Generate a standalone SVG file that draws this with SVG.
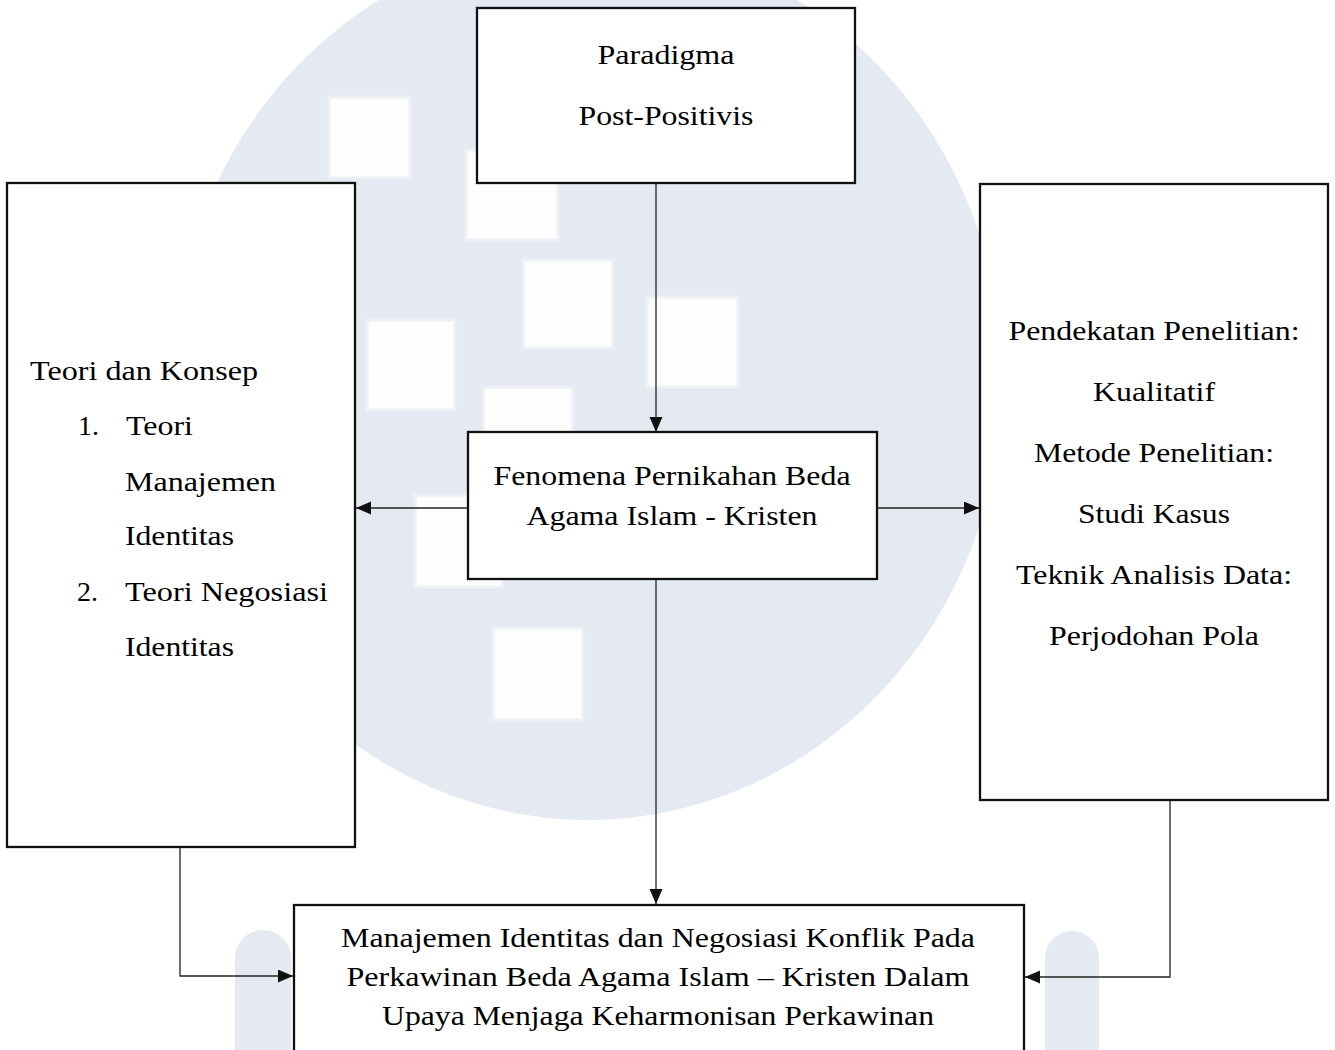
<svg xmlns="http://www.w3.org/2000/svg" width="1335" height="1050" viewBox="0 0 1335 1050">
<style>
.box{fill:#ffffff;stroke:#111111;stroke-width:2.3}
.t{font-family:"Liberation Serif","Times New Roman",Times,serif;font-size:28px;fill:#000000}
.c{text-anchor:middle}
.ln{fill:none;stroke:#222222;stroke-width:1.3}
.wm{fill:#e5e9f1}
.sq{fill:#fdfdfe;stroke:#eef0f5;stroke-width:3}
</style>
<defs>
<marker id="arr" markerUnits="userSpaceOnUse" markerWidth="16" markerHeight="14" refX="15" refY="6.5" orient="auto">
<path d="M0,0 L15,6.5 L0,13 z" fill="#111111"/>
</marker>
</defs>
<rect width="1335" height="1050" fill="#ffffff"/>
<g id="watermark">
<ellipse class="wm" cx="588" cy="380" rx="415" ry="440"/>
<rect class="sq" x="329" y="97" width="81" height="81"/>
<rect class="sq" x="466" y="150" width="92" height="90"/>
<rect class="sq" x="523" y="260" width="90" height="88"/>
<rect class="sq" x="367" y="320" width="88" height="90"/>
<rect class="sq" x="483" y="387" width="90" height="88"/>
<rect class="sq" x="647" y="297" width="91" height="90"/>
<rect class="sq" x="415" y="495" width="88" height="92"/>
<rect class="sq" x="493" y="628" width="90" height="92"/>
<path class="wm" d="M235,1050 V958 A28,28 0 0 1 291,958 V1050 Z"/>
<path class="wm" d="M1045,1050 V958 A27,27 0 0 1 1099,958 V1050 Z"/>
</g>
<g id="connectors">
<line class="ln" x1="656" y1="184" x2="656" y2="432" marker-end="url(#arr)"/>
<line class="ln" x1="468" y1="508" x2="356" y2="508" marker-end="url(#arr)"/>
<line class="ln" x1="877" y1="508" x2="979" y2="508" marker-end="url(#arr)"/>
<line class="ln" x1="656" y1="579" x2="656" y2="904" marker-end="url(#arr)"/>
<polyline class="ln" points="180,848 180,976 293,976" marker-end="url(#arr)"/>
<polyline class="ln" points="1170,800 1170,977 1025,977" marker-end="url(#arr)"/>
</g>
<g id="paradigma">
<rect class="box" x="477" y="8" width="378" height="175"/>
<text class="t c" x="666" y="64" textLength="137" lengthAdjust="spacingAndGlyphs">Paradigma</text>
<text class="t c" x="666" y="125" textLength="175" lengthAdjust="spacingAndGlyphs">Post-Positivis</text>
</g>
<g id="teori">
<rect class="box" x="7" y="183" width="348" height="664"/>
<text class="t" x="30" y="380" textLength="228" lengthAdjust="spacingAndGlyphs">Teori dan Konsep</text>
<text class="t" x="78" y="435">1.</text>
<text class="t" x="126" y="435" textLength="67" lengthAdjust="spacingAndGlyphs">Teori</text>
<text class="t" x="125" y="491" textLength="151" lengthAdjust="spacingAndGlyphs">Manajemen</text>
<text class="t" x="125" y="545" textLength="109" lengthAdjust="spacingAndGlyphs">Identitas</text>
<text class="t" x="77" y="601">2.</text>
<text class="t" x="125" y="601" textLength="203" lengthAdjust="spacingAndGlyphs">Teori Negosiasi</text>
<text class="t" x="125" y="656" textLength="109" lengthAdjust="spacingAndGlyphs">Identitas</text>
</g>
<g id="fenomena">
<rect class="box" x="468" y="432" width="409" height="147"/>
<text class="t c" x="672" y="485" textLength="357" lengthAdjust="spacingAndGlyphs">Fenomena Pernikahan Beda</text>
<text class="t c" x="672" y="525" textLength="291" lengthAdjust="spacingAndGlyphs">Agama Islam - Kristen</text>
</g>
<g id="pendekatan">
<rect class="box" x="980" y="184" width="348" height="616"/>
<text class="t c" x="1154" y="340" textLength="291" lengthAdjust="spacingAndGlyphs">Pendekatan Penelitian:</text>
<text class="t c" x="1154" y="401" textLength="122" lengthAdjust="spacingAndGlyphs">Kualitatif</text>
<text class="t c" x="1154" y="462" textLength="240" lengthAdjust="spacingAndGlyphs">Metode Penelitian:</text>
<text class="t c" x="1154" y="523" textLength="152" lengthAdjust="spacingAndGlyphs">Studi Kasus</text>
<text class="t c" x="1154" y="584" textLength="276" lengthAdjust="spacingAndGlyphs">Teknik Analisis Data:</text>
<text class="t c" x="1154" y="645" textLength="210" lengthAdjust="spacingAndGlyphs">Perjodohan Pola</text>
</g>
<g id="hasil">
<rect class="box" x="294" y="905" width="730" height="160"/>
<text class="t c" x="658" y="947" textLength="634" lengthAdjust="spacingAndGlyphs">Manajemen Identitas dan Negosiasi Konflik Pada</text>
<text class="t c" x="658" y="986" textLength="623" lengthAdjust="spacingAndGlyphs">Perkawinan Beda Agama Islam – Kristen Dalam</text>
<text class="t c" x="658" y="1025" textLength="552" lengthAdjust="spacingAndGlyphs">Upaya Menjaga Keharmonisan Perkawinan</text>
</g>
</svg>
